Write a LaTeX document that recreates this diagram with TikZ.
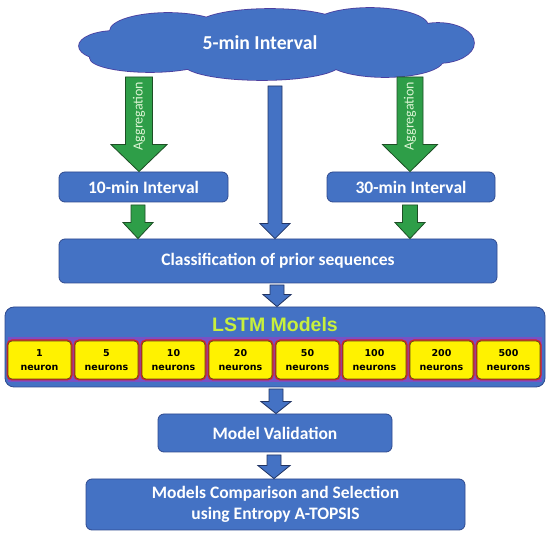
\documentclass[tikz,border=0pt]{standalone}
\usepackage{fontspec}
\setmainfont{Carlito}
\newfontfamily\dejavu{DejaVu Sans}
\newfontfamily\arialf{Liberation Sans}
\usetikzlibrary{calc}
\definecolor{boxblue}{HTML}{4472C4}
\definecolor{boxline}{HTML}{2F4A8F}
\definecolor{cloudline}{HTML}{4B3F9F}
\definecolor{arrgreen}{HTML}{2E9E48}
\definecolor{arrgreenline}{HTML}{1D4F25}
\definecolor{aggtext}{HTML}{DDF5D5}
\definecolor{lstmyellow}{HTML}{C8F03C}
\definecolor{bandpurple}{HTML}{7A50C4}
\definecolor{neuronyellow}{HTML}{FFF200}
\definecolor{neuronred}{HTML}{D8202A}
\definecolor{neuronline}{HTML}{5A4A1E}
\newcommand\blockarrow[6]{%
  \path[#1] let \p1=(#2), \p2=(#3) in
    ({\x1-#4},\y1) -- ({\x1+#4},\y1) -- ({\x1+#4},{\y2+#6}) -- ({\x1+#5},{\y2+#6})
    -- (\x1,\y2) -- ({\x1-#5},{\y2+#6}) -- ({\x1-#4},{\y2+#6}) -- cycle;}
\newcommand\cloudlobes{%
  (115,46) ellipse [x radius=36, y radius=15]
  (168,31) ellipse [x radius=58, y radius=18]
  (270,25) ellipse [x radius=72, y radius=16]
  (370,26) ellipse [x radius=58, y radius=18]
  (438,43) ellipse [x radius=36, y radius=20]
  (385,60) ellipse [x radius=58, y radius=17]
  (262,64) ellipse [x radius=78, y radius=16]
  (150,58) ellipse [x radius=60, y radius=14]
  (277,44) ellipse [x radius=150, y radius=26]}
\begin{document}
\begin{tikzpicture}[x=1pt,y=-1pt,
  bluebox/.style={draw=boxline,line width=0.8pt,fill=boxblue,rounded corners=6pt,
    text=white,font=\bfseries\fontsize{17.5}{21}\selectfont,align=center,inner sep=0pt},
  greenarr/.style={draw=arrgreenline,line width=0.8pt,fill=arrgreen},
  bluearr/.style={draw=boxline!70!black,line width=0.8pt,fill=boxblue},
  neuron/.style={fill=neuronyellow,draw=neuronline,line width=0.7pt,rounded corners=4pt,
    minimum width=63pt,minimum height=38pt,inner sep=0pt,align=center,
    font=\dejavu\bfseries\fontsize{9.5}{14}\selectfont,
    preaction={draw=neuronred,line width=3pt,rounded corners=4pt}},
  aggr/.style={rotate=90,text=aggtext,font=\fontsize{14}{16}\selectfont,inner sep=0pt}]
\useasboundingbox (0,0) rectangle (550,537);
\fill[white] (0,0) rectangle (550,537);
% cloud
\draw[cloudline,line width=1.6pt] \cloudlobes;
\fill[boxblue] \cloudlobes;
\node[text=white,font=\bfseries\fontsize{19.7}{23}\selectfont] (t5) at (260,43) {5-min Interval};
% boxes
\node[bluebox,minimum width=169pt,minimum height=30pt] (m10) at (143.5,187) {10-min Interval};
\node[bluebox,minimum width=168pt,minimum height=30pt] (m30) at (411,187) {30-min Interval};
\node[bluebox,minimum width=438pt,minimum height=44pt] (cls) at (278,261) {Classification of prior sequences};
\node[bluebox,rounded corners=9pt,minimum width=540pt,minimum height=80pt] (lstm) at (275,347) {};
\fill[bandpurple] (8,337) rectangle (542,382);
\node[text=lstmyellow,font=\arialf\bfseries\fontsize{19.5}{22}\selectfont] (lt) at (275,325) {LSTM Models};
\foreach \i/\t in {1/{1\\neuron},2/{5\\neurons},3/{10\\neurons},4/{20\\neurons},
  5/{50\\neurons},6/{100\\neurons},7/{200\\neurons},8/{500\\neurons}}{
  \node[neuron] (n\i) at ({39.5+67*(\i-1)},360) {\t};
}
\node[bluebox,minimum width=234pt,minimum height=38pt] (val) at (275,433) {Model Validation};
\node[bluebox,minimum width=379pt,minimum height=51pt] (fin) at (275.5,504.5)
  {Models Comparison and Selection\\using Entropy A-TOPSIS};
% connectors
\coordinate (ga) at (139,77);
\coordinate (gb) at (410,77);
\coordinate (ca) at (275,86);
\blockarrow{greenarr}{ga}{ga|-m10.north}{13.5pt}{28pt}{27pt}
\blockarrow{greenarr}{gb}{gb|-m30.north}{13pt}{27.5pt}{27pt}
\node[aggr] (ag1) at (139,116) {Aggregation};
\node[aggr] (ag2) at (410,116) {Aggregation};
\blockarrow{bluearr}{ca}{ca|-cls.north}{7pt}{15pt}{15pt}
\coordinate (sa) at (138,205);
\coordinate (sb) at (410,205);
\blockarrow{greenarr}{sa}{sa|-cls.north}{7pt}{15pt}{16pt}
\blockarrow{greenarr}{sb}{sb|-cls.north}{7.5pt}{15pt}{16pt}
\coordinate (c1) at (277,285);
\blockarrow{bluearr}{c1}{c1|-lstm.north}{7pt}{14pt}{12pt}
\coordinate (c2) at (276,389);
\blockarrow{bluearr}{c2}{c2|-val.north}{7pt}{15pt}{12pt}
\coordinate (c3) at (274,455);
\blockarrow{bluearr}{c3}{c3|-fin.north}{7pt}{16pt}{13pt}
\end{tikzpicture}
\end{document}
